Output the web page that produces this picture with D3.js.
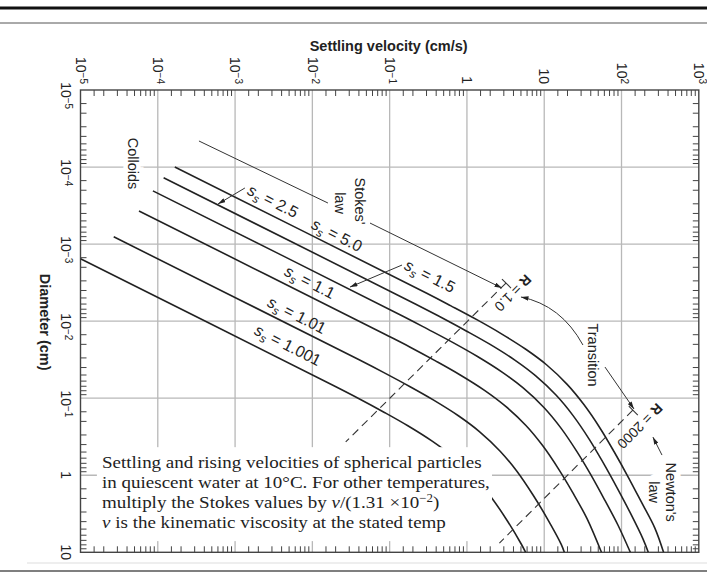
<!DOCTYPE html>
<html>
<head>
<meta charset="utf-8">
<script src="https://cdn.jsdelivr.net/npm/d3@7"></script>
<style>
  body { margin: 0; background: #fff; }
  svg { display: block; }
  text { font-family: "Liberation Sans", Arial, Helvetica, sans-serif; fill: #222; }
  .note text { font-family: "Liberation Serif", "Times New Roman", serif; }
</style>
</head>
<body>
<div id="chart"></div>
<script>
const WIDTH = 707;
const HEIGHT = 576;

// settling curves, [velocity cm/s, diameter cm]
const curveNames = ["5.0", "2.5", "1.5", "1.1", "1.01", "1.001"];
const curve50 = [[1.66e-4, 1.0e-4], [0.302, 4.34e-3], [0.621, 6.33e-3], [1.36, 9.64e-3], [2.73, 0.0144], [5.71, 0.0230], [10.7, 0.0368], [19.8, 0.0661], [32.6, 0.121], [53.1, 0.247], [79.9, 0.492], [123, 1.07], [179, 2.19], [270, 4.86], [350, 10]];
const curve25 = [[1.19e-4, 1.38e-4], [0.218, 6.02e-3], [0.448, 8.77e-3], [0.980, 0.0134], [1.97, 0.0199], [4.12, 0.0318], [7.70, 0.0510], [14.3, 0.0917], [23.5, 0.167], [38.3, 0.342], [57.6, 0.682], [88.4, 1.48], [129, 3.04], [190, 6.74], [222, 10]];
const curve15 = [[8.65e-5, 2.04e-4], [0.151, 8.69e-3], [0.311, 0.0127], [0.680, 0.0193], [1.37, 0.0288], [2.85, 0.0459], [5.34, 0.0736], [9.91, 0.132], [16.3, 0.241], [26.5, 0.494], [40.0, 0.983], [61.3, 2.14], [89.5, 4.39], [130, 10]];
const curve11 = [[5.71e-5, 3.71e-4], [0.0882, 0.0149], [0.182, 0.0216], [0.397, 0.0330], [0.799, 0.0492], [1.67, 0.0785], [3.12, 0.126], [5.80, 0.226], [9.53, 0.412], [15.5, 0.844], [23.4, 1.68], [35.8, 3.66], [55, 10]];
const curve101 = [[2.69e-5, 8.04e-4], [0.0409, 0.0320], [0.0843, 0.0466], [0.184, 0.0710], [0.371, 0.106], [0.775, 0.169], [1.45, 0.271], [2.69, 0.487], [4.43, 0.888], [7.20, 1.82], [10.9, 3.62], [16.6, 7.88], [18.2, 10]];
const curve1001 = [[1.0e-5, 1.55e-3], [0.0190, 0.0689], [0.0391, 0.100], [0.0856, 0.153], [0.172, 0.228], [0.359, 0.364], [0.673, 0.584], [1.25, 1.05], [2.05, 1.91], [3.34, 3.92], [5.04, 7.80], [5.75, 10]];
const curves = [curve50, curve25, curve15, curve11, curve101, curve1001];

// Reynolds number boundaries (dashed)
const reynolds1 = [[3.2, 3.2e-3], [0.027, 0.37]];
const reynolds2000 = [[140, 0.143], [2.63, 7.6]];

// axes
const velocityTicks = [1e-5, 1e-4, 1e-3, 1e-2, 1e-1, 1, 10, 1e2, 1e3];
const velocityTickLabels = [["10", "\u22125"], ["10", "\u22124"], ["10", "\u22123"], ["10", "\u22122"], ["10", "\u22121"], ["1", ""], ["10", ""], ["10", "2"], ["10", "3"]];
const diameterTicks = [1e-5, 1e-4, 1e-3, 1e-2, 1e-1, 1, 10];
const diameterTickLabels = [["10", "\u22125"], ["10", "\u22124"], ["10", "\u22123"], ["10", "\u22122"], ["10", "\u22121"], ["1", ""], ["10", ""]];
const minorSteps = [1.5, 2, 3, 4, 5, 6, 7, 8, 9];

// annotation anchors, in [velocity, diameter]
const ssLabelPos = [[0.0208, 7.62e-4], [3.10e-3, 2.76e-4], [0.333, 2.60e-3], [9.3e-3, 3.11e-3], [6.32e-3, 8.34e-3], [4.84e-3, 0.0204]];
const ssArrows = [[[1.34e-3, 1.87e-4], [6.01e-4, 3.02e-4]], [[0.1445, 1.87e-3], [0.0307, 3.61e-3]]];
const stokesGuide = [[3.41e-4, 4.59e-5], [0.0159, 2.93e-4]];
const stokesArrow = [[0.0557, 5.33e-4], [2.84, 3.72e-3]];
const transitionArrow1 = [[31.7, 0.0204], [16.5, 6.18e-3], [5.0, 4.86e-3]];
const transitionArrow2 = [[61.1, 0.0394], [145, 0.138]];
const newtonArrow = [[334, 0.547], [255, 0.320]];
const wordLabels = [
  { text: "Colloids", at: [4.77e-5, 9.0e-5], halo: true },
  { text: "Stokes'", at: [0.0413, 2.76e-4] },
  { text: "law", at: [0.0228, 2.93e-4] },
  { text: "Transition", at: [42.7, 0.0275] },
  { text: "Newton's", at: [437, 1.66], halo: true },
  { text: "law", at: [263, 1.66], halo: true }
];
const reynoldsLabels = [{ value: "1.0", at: [3.94, 4.31e-3] }, { value: "2000", at: [173, 0.230] }];

const noteCorners = [[1.63e-5, 0.432], [2.11, 7.16]];
const noteStart = [1.90e-5, 0.808];
const noteLines = [
  [{ t: "Settling and rising velocities of spherical particles" }],
  [{ t: "in quiescent water at 10\u00B0C. For other temperatures," }],
  [{ t: "multiply the Stokes values by " }, { t: "\u03BD", i: true }, { t: "/(1.31 \u00D710" }, { t: "\u22122", sup: true }, { t: ")", down: true }],
  [{ t: "\u03BD", i: true }, { t: " is the kinematic viscosity at the stated temp" }]
];

// ---- drawing

const x = d3.scaleLog().domain([1e-5, 1e3]).range([80.5, 698.8]);
const y = d3.scaleLog().domain([1e-5, 10]).range([90, 552.3]);
const [x0, x1] = x.range();
const [y0, y1] = y.range();
const px = (p) => [x(p[0]), y(p[1])];

const svg = d3.select("#chart").append("svg")
  .attr("xmlns", "http://www.w3.org/2000/svg")
  .attr("viewBox", `0 0 ${WIDTH} ${HEIGHT}`)
  .attr("width", WIDTH)
  .attr("height", HEIGHT);

svg.append("rect").attr("width", WIDTH).attr("height", HEIGHT).attr("fill", "#fff");

const defs = svg.append("defs");
defs.append("clipPath").attr("id", "plot")
  .append("rect").attr("x", x0).attr("y", y0).attr("width", x1 - x0).attr("height", y1 - y0);
defs.append("marker")
  .attr("id", "arrow")
  .attr("viewBox", "0 0 10 6")
  .attr("refX", 10).attr("refY", 3)
  .attr("markerWidth", 8).attr("markerHeight", 4.5)
  .attr("markerUnits", "userSpaceOnUse")
  .attr("orient", "auto")
  .append("path").attr("d", "M0,0 L10,3 L0,6 Z").attr("fill", "#222");

// page rules above and below
svg.append("line").attr("x1", 0).attr("x2", WIDTH).attr("y1", 8).attr("y2", 8)
  .attr("stroke", "#111").attr("stroke-width", 3);
svg.append("line").attr("x1", 0).attr("x2", WIDTH).attr("y1", 23).attr("y2", 23)
  .attr("stroke", "#555").attr("stroke-width", 1);
svg.append("line").attr("x1", 27).attr("x2", WIDTH).attr("y1", 563).attr("y2", 563)
  .attr("stroke", "#ddd").attr("stroke-width", 1);
svg.append("line").attr("x1", 0).attr("x2", WIDTH).attr("y1", 571).attr("y2", 571)
  .attr("stroke", "#555").attr("stroke-width", 1.5);

// grid
const grid = svg.append("g").attr("stroke", "#b8b8b8").attr("stroke-width", 1.3);
grid.selectAll(".gv").data(velocityTicks.slice(1, -1)).enter().append("line")
  .attr("x1", (d) => x(d)).attr("x2", (d) => x(d)).attr("y1", y0).attr("y2", y1);
grid.selectAll(".gh").data(diameterTicks.slice(1, -1)).enter().append("line")
  .attr("y1", (d) => y(d)).attr("y2", (d) => y(d)).attr("x1", x0).attr("x2", x1);

// minor ticks, inside the frame on all four sides
const minorV = velocityTicks.slice(0, -1).flatMap((t) => minorSteps.map((m) => t * m));
const minorD = diameterTicks.slice(0, -1).flatMap((t) => minorSteps.map((m) => t * m));
const ticks = svg.append("g").attr("stroke", "#444").attr("stroke-width", 1);
const TL = 6;
ticks.selectAll(".tt").data(minorV).enter().append("line")
  .attr("x1", (d) => x(d)).attr("x2", (d) => x(d)).attr("y1", y0).attr("y2", y0 + TL);
ticks.selectAll(".tb").data(minorV).enter().append("line")
  .attr("x1", (d) => x(d)).attr("x2", (d) => x(d)).attr("y1", y1).attr("y2", y1 - TL);
ticks.selectAll(".tl").data(minorD).enter().append("line")
  .attr("y1", (d) => y(d)).attr("y2", (d) => y(d)).attr("x1", x0).attr("x2", x0 + TL);
ticks.selectAll(".tr").data(minorD).enter().append("line")
  .attr("y1", (d) => y(d)).attr("y2", (d) => y(d)).attr("x1", x1).attr("x2", x1 - TL);

svg.append("rect")
  .attr("x", x0).attr("y", y0).attr("width", x1 - x0).attr("height", y1 - y0)
  .attr("fill", "none").attr("stroke", "#444").attr("stroke-width", 1.4);

// tick labels (rotated, reading downwards)
function tickLabel(g, lab) {
  const t = g.append("text").style("font-size", "14px");
  t.append("tspan").text(lab[0]);
  if (lab[1]) t.append("tspan").attr("dy", "-0.45em").style("font-size", "10px").text(lab[1]);
  return t;
}
velocityTicks.forEach((v, i) => {
  const g = svg.append("g").attr("transform", `translate(${x(v) - 4.8}, ${y0 - 6}) rotate(90)`);
  tickLabel(g, velocityTickLabels[i]).attr("text-anchor", "end");
});
diameterTicks.forEach((d, i) => {
  const lab = diameterTickLabels[i];
  const g = svg.append("g").attr("transform", `translate(${x0 - 20}, ${y(d)}) rotate(90)`);
  const t = tickLabel(g, lab);
  if (lab[1]) t.attr("x", -7.8); else t.attr("text-anchor", "middle");
});

svg.append("text")
  .attr("x", (x0 + x1) / 2 - 1).attr("y", 51)
  .attr("text-anchor", "middle")
  .style("font-size", "14.5px").style("font-weight", "bold")
  .text("Settling velocity (cm/s)");
svg.append("g").attr("transform", `translate(40, ${(y0 + y1) / 2 + 1}) rotate(90)`)
  .append("text").attr("text-anchor", "middle")
  .style("font-size", "14.5px").style("font-weight", "bold")
  .text("Diameter (cm)");

// word labels with a white halo where they sit on the grid
wordLabels.forEach((w) => {
  const [lx, ly] = px(w.at);
  const g = svg.append("g").attr("transform", `translate(${lx}, ${ly}) rotate(90)`);
  const t = g.append("text").attr("text-anchor", "middle").attr("dy", "0.35em")
    .style("font-size", "14.5px").text(w.text);
  if (w.halo) t.attr("stroke", "#fff").attr("stroke-width", 9).attr("paint-order", "stroke");
});

// settling curves
const line = d3.line().x((d) => x(d[0])).y((d) => y(d[1])).curve(d3.curveCatmullRom.alpha(0.5));
svg.append("g").attr("clip-path", "url(#plot)")
  .selectAll(".curve").data(curves).enter().append("path")
  .attr("class", "curve")
  .attr("d", line)
  .attr("fill", "none").attr("stroke", "#222").attr("stroke-width", 1.6);

// Reynolds boundaries with end bars
[reynolds1, reynolds2000].forEach((r) => {
  svg.append("path").attr("d", d3.line()(r.map(px)))
    .attr("fill", "none").attr("stroke", "#333").attr("stroke-width", 1.1).attr("stroke-dasharray", "8,5");
  const [ex, ey] = px(r[0]);
  svg.append("line")
    .attr("x1", ex - 4).attr("y1", ey - 4).attr("x2", ex + 5).attr("y2", ey + 5)
    .attr("stroke", "#333").attr("stroke-width", 1.1);
});
reynoldsLabels.forEach((r) => {
  const [lx, ly] = px(r.at);
  const t = svg.append("g").attr("transform", `translate(${lx}, ${ly}) rotate(135)`)
    .append("text").attr("text-anchor", "middle").attr("dy", "0.35em").style("font-size", "14px");
  t.append("tspan").style("font-weight", "bold").text("R");
  t.append("tspan").text(" = " + r.value);
});

// Stokes' law guide and arrows
svg.append("path").attr("d", d3.line()(stokesGuide.map(px)))
  .attr("stroke", "#333").attr("stroke-width", 1).attr("fill", "none");
const arrows = [stokesArrow, transitionArrow2, newtonArrow, ...ssArrows];
arrows.forEach((a) => {
  svg.append("path").attr("d", d3.line()(a.map(px)))
    .attr("stroke", "#333").attr("stroke-width", 1).attr("fill", "none")
    .attr("marker-end", "url(#arrow)");
});
{
  const [p0, c, p1] = transitionArrow1.map(px);
  svg.append("path").attr("d", `M${p0[0]},${p0[1]} Q${c[0]},${c[1]} ${p1[0]},${p1[1]}`)
    .attr("stroke", "#333").attr("stroke-width", 1).attr("fill", "none")
    .attr("marker-end", "url(#arrow)");
}

// s_s labels along the curves
curveNames.forEach((name, i) => {
  const [lx, ly] = px(ssLabelPos[i]);
  const t = svg.append("g").attr("transform", `translate(${lx}, ${ly}) rotate(27)`)
    .append("text").attr("text-anchor", "middle").attr("dy", "0.35em").style("font-size", "16px");
  t.append("tspan").style("font-style", "italic").text("s");
  t.append("tspan").attr("dy", 4).style("font-style", "italic").style("font-size", "11.5px").text("s");
  t.append("tspan").attr("dy", -4).text(" = " + name);
});

// note panel (serif text, slightly widened as in the original)
const note = svg.append("g").attr("class", "note");
const [c0, c1] = noteCorners.map(px);
note.append("rect").attr("x", c0[0]).attr("y", c0[1])
  .attr("width", c1[0] - c0[0]).attr("height", c1[1] - c0[1]).attr("fill", "#fff");
const [nx, ny] = px(noteStart);
const noteText = note.append("g").attr("transform", `translate(${nx}, ${ny}) scale(1.08, 1)`);
noteLines.forEach((segs, i) => {
  const t = noteText.append("text").attr("x", 0).attr("y", i * 19.8).style("font-size", "17.6px");
  segs.forEach((s) => {
    const ts = t.append("tspan").text(s.t);
    if (s.i) ts.style("font-style", "italic");
    if (s.sup) ts.attr("dy", -6).style("font-size", "12px");
    if (s.down) ts.attr("dy", 6);
  });
});
</script>
</body>
</html>
